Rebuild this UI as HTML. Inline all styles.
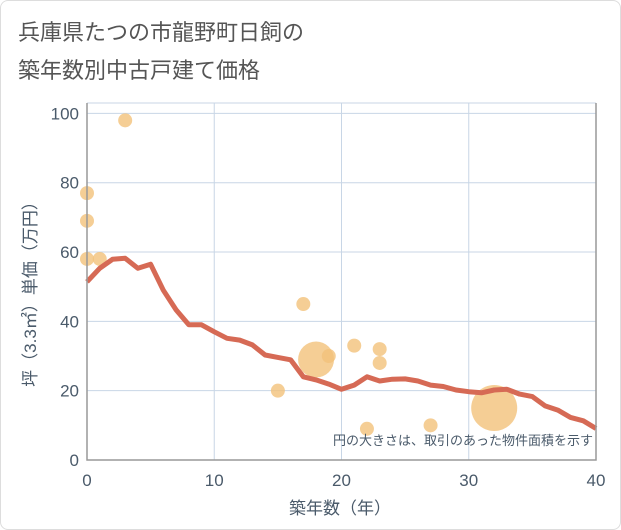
<!DOCTYPE html>
<html><head><meta charset="utf-8">
<style>
body{margin:0;background:#fff;font-family:"Liberation Sans","Noto Sans CJK JP",sans-serif;}
#wrap{position:relative;width:619px;height:528px;border:1px solid #ddd;border-radius:8px;overflow:hidden;background:#fff}
</style></head><body>
<div id="wrap">
<svg id="chart" width="621" height="530" style="position:absolute;left:-1px;top:-1px">
<text x="18" y="40" font-size="22" fill="#555" font-family="Liberation Sans, Noto Sans CJK JP, sans-serif">兵庫県たつの市龍野町日飼の</text>
<text x="18" y="78" font-size="22" fill="#555" font-family="Liberation Sans, Noto Sans CJK JP, sans-serif">築年数別中古戸建て価格</text>
<g id="grid"></g><g id="bubbles"></g><g id="line"></g><g id="axes"></g>
<text x="593" y="445" font-size="13" fill="#4a5a6a" text-anchor="end" font-family="Liberation Sans, Noto Sans CJK JP, sans-serif">円の大きさは、取引のあった物件面積を示す</text>
<text x="340" y="514" font-size="17" fill="#4a5a6a" text-anchor="middle" font-family="Liberation Sans, Noto Sans CJK JP, sans-serif">築年数（年）</text>
<text transform="translate(36,290) rotate(-90)" font-size="17" fill="#4a5a6a" text-anchor="middle" font-family="Liberation Sans, Noto Sans CJK JP, sans-serif">坪（3.3㎡）単価（万円）</text>
</svg>
</div>
<script>
const xTicks=[0,10,20,30,40];
const yTicks=[0,20,40,60,80,100];
const lineYears=[0,1,2,3,4,5,6,7,8,9,10,11,12,13,14,15,16,17,18,19,20,21,22,23,24,25,26,27,28,29,30,31,32,33,34,35,36,37,38,39,40];
const lineValues=[51.4,55.3,57.9,58.2,55.3,56.5,49,43.3,39,39,37,35.1,34.6,33.2,30.3,29.6,28.9,24,23.1,21.9,20.4,21.6,24,22.8,23.3,23.4,22.8,21.6,21.2,20.2,19.7,19.4,20.2,20.4,19,18.3,15.6,14.4,12.3,11.3,9.1];
const bubbleX=[3,0,0,0,1,17,18,19,21,23,23,15,22,27,32];
const bubbleY=[98,77,69,58,58,45,29,30,33,32,28,20,9,10,15];
const bubbleSize=[1,1,1,1,1,1,6.6,1,1,1,1,1,1,1,10.8];
const X0=87,X1=596,Y0=460,YT=103,YMAX=103;
const xs=v=>X0+(v/40)*(X1-X0);
const ys=v=>Y0-(v/YMAX)*(Y0-YT);
const NS="http://www.w3.org/2000/svg";
function mk(t,a,p){const e=document.createElementNS(NS,t);for(const k in a)e.setAttribute(k,a[k]);p.appendChild(e);return e;}
const grid=document.getElementById('grid'),axes=document.getElementById('axes');
xTicks.forEach(t=>{
 const l=mk('line',{x1:xs(t),x2:xs(t),y1:YT,y2:Y0,stroke:'#c8d6e6','stroke-width':1},grid);
 
 
 const tx=mk('text',{x:xs(t),y:Y0+26,'font-size':17,fill:'#4a5a6a','text-anchor':'middle'},axes);
 tx.textContent=t;
 
 
});
yTicks.forEach(t=>{
 const l=mk('line',{x1:X0,x2:X1,y1:ys(t),y2:ys(t),stroke:'#c8d6e6','stroke-width':1},grid);
 
 
 const tx=mk('text',{x:X0-8,y:ys(t)+6,'font-size':17,fill:'#4a5a6a','text-anchor':'end'},axes);
 tx.textContent=t;
 
 
});
const topBorder=mk('line',{x1:X0,x2:X1,y1:YT,y2:YT,stroke:'#c8d6e6'},grid);


const ax=mk('path',{d:`M${X0},${YT}V${Y0}H${X1}V${YT}`,fill:'none',stroke:'#999','stroke-width':1.5},axes);


const bg=document.getElementById('bubbles');
bubbleX.forEach((x,i)=>{
 const c=mk('circle',{cx:xs(x),cy:ys(bubbleY[i]),r:7*Math.sqrt(bubbleSize[i]),fill:'#f3c27a','fill-opacity':0.8},bg);
 
 
});
const d=lineYears.map((x,i)=>(i?'L':'M')+xs(x).toFixed(1)+','+ys(lineValues[i]).toFixed(1)).join('');
const p=mk('path',{d:d,fill:'none',stroke:'#d66a55','stroke-width':5,'stroke-linejoin':'round'},document.getElementById('line'));


</script>
</body></html>
